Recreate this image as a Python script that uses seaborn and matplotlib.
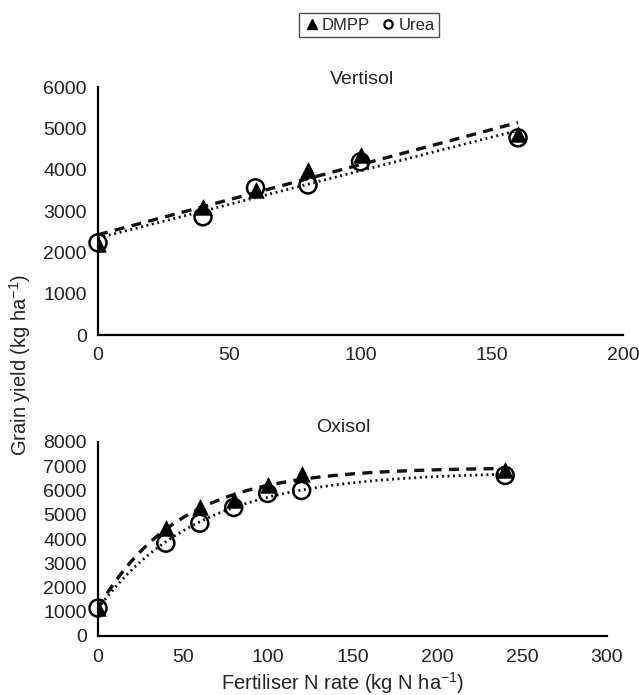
import seaborn as sns
import pandas as pd
import numpy as np
import matplotlib.pyplot as plt
from matplotlib.lines import Line2D

# Vertisol readings
vert_n = [0, 40, 60, 80, 100, 160]
vert_dmpp = [2200, 3100, 3500, 4000, 4350, 4870]
vert_urea = [2230, 2860, 3560, 3630, 4190, 4770]

# Oxisol readings
oxi_n = [0, 40, 60, 80, 100, 120, 240]
oxi_dmpp = [1150, 4440, 5300, 5600, 6210, 6700, 6830]
oxi_urea = [1150, 3830, 4650, 5300, 5880, 6000, 6620]


def linear_fit(x, y, xs):
    b, a = np.polyfit(x, y, 1)
    return a + b * xs


def plateau_fit(x, y, xs):
    # y = a - b*exp(-c x), grid over c, least squares for a and b
    x = np.asarray(x, float)
    y = np.asarray(y, float)
    best = None
    for c in np.linspace(0.002, 0.1, 2000):
        A = np.column_stack([np.ones_like(x), -np.exp(-c * x)])
        coef, res, _, _ = np.linalg.lstsq(A, y, rcond=None)
        err = np.sum((A @ coef - y) ** 2)
        if best is None or err < best[0]:
            best = (err, c, coef)
    _, c, (a, b) = best
    return a - b * np.exp(-c * xs)


sns.set_style("white")
plt.rcParams['font.family'] = ['Liberation Sans', 'DejaVu Sans']
plt.rcParams['mathtext.fontset'] = 'custom'
plt.rcParams['mathtext.rm'] = 'Liberation Sans'
plt.rcParams['mathtext.default'] = 'regular'

fig = plt.figure(figsize=(6.39, 6.95), dpi=100)
W, H = 639, 695
ax1 = fig.add_axes([98 / W, 1 - 335 / H, (623 - 98) / W, (335 - 87) / H])
ax2 = fig.add_axes([98 / W, 1 - 636 / H, (607 - 98) / W, (636 - 442) / H])


def draw_panel(ax, n, dmpp, urea, fitter, xmax):
    xs = np.linspace(0, max(n), 200)
    fits = pd.DataFrame({'x': xs,
                         'dmpp': fitter(n, dmpp, xs),
                         'urea': fitter(n, urea, xs)})
    sns.lineplot(data=fits, x='x', y='dmpp', ax=ax, color='#111111',
                 lw=2.4, linestyle=(0, (3.0, 2.2)), zorder=2)
    sns.lineplot(data=fits, x='x', y='urea', ax=ax, color='#111111',
                 lw=2.0, linestyle=(0, (0.7, 1.3)), zorder=2)
    sns.scatterplot(x=n, y=dmpp, ax=ax, marker='^', s=125, color='black',
                    edgecolor='black', linewidth=0.5, zorder=3)
    ax.scatter(n, urea, marker='o', s=150, facecolors='none',
               edgecolors='black', linewidths=1.8, zorder=4, clip_on=False)
    ax.set_xlim(0, xmax)
    ax.set_xlabel('')
    ax.set_ylabel('')
    for s in ['top', 'right']:
        ax.spines[s].set_visible(False)
    for s in ['left', 'bottom']:
        ax.spines[s].set_color('black')
        ax.spines[s].set_linewidth(1.6)
    ax.tick_params(axis='both', length=0, labelsize=14, colors='#222222')
    ax.tick_params(axis='x', pad=9)
    ax.tick_params(axis='y', pad=8)


draw_panel(ax1, vert_n, vert_dmpp, vert_urea, linear_fit, 200)
ax1.set_ylim(0, 6000)
ax1.set_xticks([0, 50, 100, 150, 200])
ax1.set_yticks(range(0, 6001, 1000))

draw_panel(ax2, oxi_n, oxi_dmpp, oxi_urea, plateau_fit, 300)
ax2.set_ylim(0, 8000)
ax2.set_xticks([0, 50, 100, 150, 200, 250, 300])
ax2.set_yticks(range(0, 8001, 1000))

fig.text(362 / W, 1 - 80 / H, 'Vertisol', ha='center', va='center', fontsize=14, color='#222222')
fig.text(343 / W, 1 - 427 / H, 'Oxisol', ha='center', va='center', fontsize=14, color='#222222')
fig.text(20 / W, 1 - 365 / H, 'Grain yield (kg ha$^{-1}$)', rotation=90,
         ha='center', va='center', fontsize=14.5, color='#222222')
fig.text(343 / W, 1 - 683 / H, 'Fertiliser N rate (kg N ha$^{-1}$)',
         ha='center', va='center', fontsize=14.5, color='#222222')

handles = [Line2D([], [], marker='^', color='black', ls='', markersize=7),
           Line2D([], [], marker='o', markerfacecolor='none', markeredgecolor='black',
                  markeredgewidth=1.6, ls='', markersize=6)]
leg = fig.legend(handles, ['DMPP', 'Urea'], loc='center', bbox_to_anchor=(369 / W, 1 - 25 / H),
                 ncol=2, frameon=True, fancybox=False, fontsize=12, handletextpad=0.1,
                 columnspacing=0.6, borderpad=0.25, handlelength=1.0)
leg.get_frame().set_edgecolor('#222222')
leg.get_frame().set_linewidth(1.0)

fig.savefig('out.png', dpi=100)
